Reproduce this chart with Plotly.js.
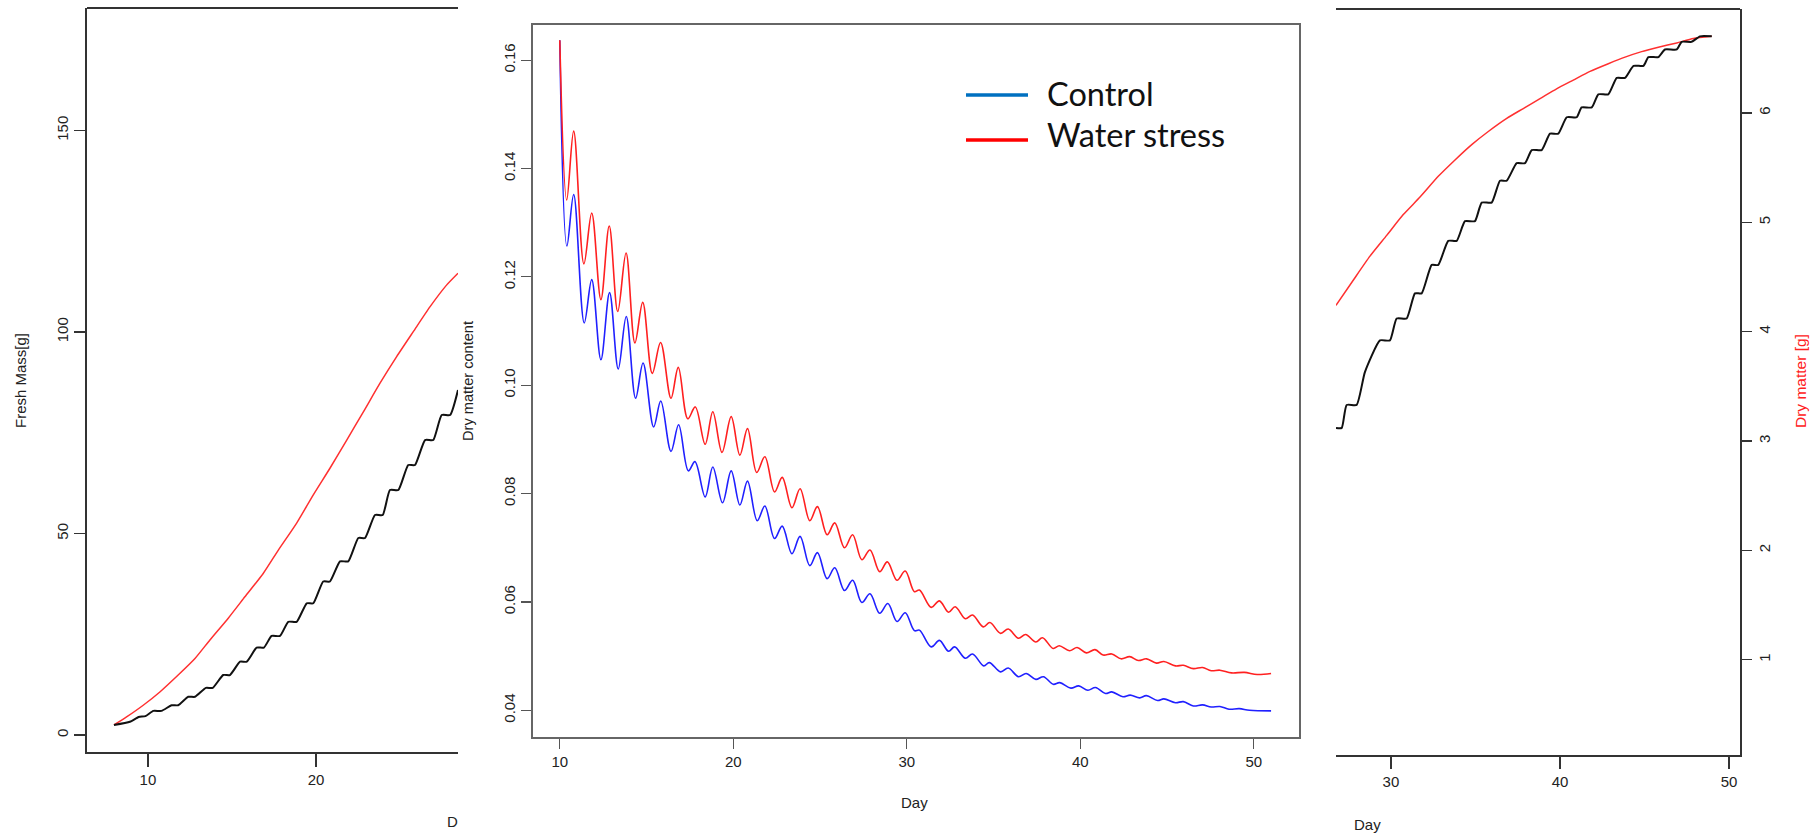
<!DOCTYPE html>
<html>
<head>
<meta charset="utf-8">
<script src="https://cdn.plot.ly/plotly-3.0.1.min.js"></script>
<style>html,body{margin:0;padding:0;background:#fff;}#chart{width:1816px;height:835px;}</style>
</head>
<body>
<div id="chart"></div>
<script>
// ---------- Left panel: Fresh mass [g] ----------
const freshStressDay = [7.98, 8.73, 9.72, 10.71, 11.80, 12.80, 13.69, 14.78, 15.77, 16.86, 17.76, 18.85, 19.84, 20.83, 21.83, 22.82, 23.81, 24.80, 25.79, 26.79, 27.78, 28.45];
const freshStressVal = [2.5, 4.5, 7.4, 10.7, 14.9, 19.0, 23.6, 29.0, 34.3, 40.1, 45.9, 52.6, 59.6, 66.2, 73.2, 80.2, 87.3, 93.9, 100.1, 106.3, 111.7, 114.6];
const freshControlDay = [7.98, 8.93, 9.45, 9.85, 10.32, 10.81, 11.41, 11.80, 12.40, 12.80, 13.45, 13.85, 14.48, 14.88, 15.48, 15.88, 16.47, 16.90, 17.36, 17.86, 18.35, 18.85, 19.45, 19.84, 20.43, 20.83, 21.43, 21.92, 22.52, 22.92, 23.51, 23.97, 24.40, 24.90, 25.49, 25.89, 26.49, 26.98, 27.48, 27.98, 28.45];
const freshControlVal = [2.5, 3.3, 4.5, 4.7, 6.0, 6.0, 7.4, 7.4, 9.5, 9.5, 11.7, 11.7, 14.9, 14.9, 18.2, 18.2, 21.7, 21.7, 24.6, 24.6, 28.1, 28.1, 32.7, 32.7, 38.1, 38.1, 43.1, 43.1, 48.9, 48.9, 54.6, 54.6, 60.8, 60.8, 67.0, 67.0, 73.2, 73.2, 79.4, 79.4, 85.6];
const freshXTicks = [10, 20];
const freshYTicks = [0, 50, 100, 150];

// ---------- Middle panel: Dry matter content ----------
const dmcControlDay = [10.00, 10.41, 10.80, 11.41, 11.84, 12.37, 12.87, 13.37, 13.83, 14.37, 14.80, 15.41, 15.82, 16.41, 16.85, 17.41, 17.79, 18.38, 18.82, 19.38, 19.88, 20.38, 20.82, 21.38, 21.82, 22.38, 22.82, 23.38, 23.85, 24.41, 24.85, 25.41, 25.85, 26.41, 26.88, 27.41, 27.88, 28.44, 28.91, 29.44, 29.91, 30.44, 30.73, 31.41, 31.88, 32.41, 32.76, 33.38, 33.79, 34.44, 34.76, 35.41, 35.85, 36.44, 36.88, 37.44, 37.88, 38.44, 38.82, 39.46, 39.91, 40.44, 40.88, 41.46, 41.82, 42.46, 42.88, 43.43, 43.81, 44.46, 44.82, 45.49, 45.94, 46.52, 47.05, 47.55, 48.05, 48.58, 49.17, 49.76, 51.00];
const dmcControlVal = [0.1637, 0.1257, 0.1352, 0.1115, 0.1195, 0.1047, 0.1171, 0.1030, 0.1127, 0.0976, 0.1041, 0.0923, 0.0971, 0.0878, 0.0927, 0.0842, 0.0859, 0.0794, 0.0849, 0.0783, 0.0842, 0.0779, 0.0823, 0.0750, 0.0777, 0.0717, 0.0740, 0.0689, 0.0721, 0.0667, 0.0691, 0.0643, 0.0663, 0.0621, 0.0640, 0.0599, 0.0615, 0.0579, 0.0597, 0.0564, 0.0580, 0.0547, 0.0548, 0.0517, 0.0529, 0.0509, 0.0517, 0.0496, 0.0504, 0.0482, 0.0488, 0.0471, 0.0478, 0.0462, 0.0468, 0.0457, 0.0462, 0.0448, 0.0451, 0.0441, 0.0445, 0.0437, 0.0442, 0.0431, 0.0434, 0.0425, 0.0428, 0.0423, 0.0427, 0.0418, 0.0421, 0.0414, 0.0416, 0.0408, 0.0410, 0.0406, 0.0407, 0.0402, 0.0403, 0.0400, 0.0399];
const dmcStressDay = [10.00, 10.40, 10.80, 11.39, 11.84, 12.37, 12.85, 13.34, 13.82, 14.33, 14.78, 15.33, 15.81, 16.41, 16.83, 17.38, 17.81, 18.38, 18.82, 19.35, 19.88, 20.38, 20.82, 21.35, 21.82, 22.38, 22.82, 23.38, 23.85, 24.41, 24.85, 25.41, 25.85, 26.41, 26.88, 27.41, 27.88, 28.44, 28.88, 29.44, 29.91, 30.44, 30.73, 31.41, 31.88, 32.41, 32.79, 33.38, 33.79, 34.41, 34.79, 35.41, 35.85, 36.44, 36.85, 37.44, 37.82, 38.44, 38.79, 39.38, 39.82, 40.35, 40.85, 41.32, 41.82, 42.35, 42.85, 43.35, 43.82, 44.40, 44.82, 45.49, 45.94, 46.52, 47.05, 47.55, 48.05, 48.72, 49.46, 50.20, 51.00];
const dmcStressVal = [0.1637, 0.1342, 0.1469, 0.1224, 0.1318, 0.1158, 0.1294, 0.1136, 0.1244, 0.1078, 0.1153, 0.1022, 0.1079, 0.0976, 0.1033, 0.0938, 0.0960, 0.0891, 0.0951, 0.0876, 0.0942, 0.0871, 0.0920, 0.0839, 0.0868, 0.0803, 0.0830, 0.0774, 0.0809, 0.0750, 0.0776, 0.0724, 0.0746, 0.0700, 0.0724, 0.0678, 0.0696, 0.0656, 0.0674, 0.0640, 0.0657, 0.0619, 0.0622, 0.0590, 0.0602, 0.0581, 0.0591, 0.0569, 0.0576, 0.0554, 0.0562, 0.0542, 0.0550, 0.0533, 0.0540, 0.0526, 0.0534, 0.0514, 0.0519, 0.0510, 0.0516, 0.0506, 0.0512, 0.0502, 0.0504, 0.0495, 0.0499, 0.0492, 0.0495, 0.0487, 0.0490, 0.0482, 0.0483, 0.0477, 0.0479, 0.0473, 0.0474, 0.0469, 0.0470, 0.0466, 0.0468];
const dmcXTicks = [10, 20, 30, 40, 50];
const dmcYTicks = [0.04, 0.06, 0.08, 0.10, 0.12, 0.14, 0.16];
const dmcYTickText = ['0.04', '0.06', '0.08', '0.10', '0.12', '0.14', '0.16'];
const legendNames = ['Control', 'Water stress'];

// ---------- Right panel: Dry matter [g] ----------
const dryStressDay = [26.75, 27.77, 28.76, 29.75, 30.73, 31.72, 32.80, 33.79, 34.78, 35.76, 36.85, 37.83, 38.82, 39.80, 40.79, 41.78, 42.86, 43.85, 44.83, 45.82, 46.91, 47.89, 48.98];
const dryStressVal = [4.24, 4.47, 4.69, 4.88, 5.07, 5.23, 5.42, 5.57, 5.71, 5.83, 5.95, 6.04, 6.13, 6.22, 6.30, 6.38, 6.45, 6.51, 6.56, 6.60, 6.64, 6.68, 6.70];
const dryControlDay = [26.75, 27.09, 27.38, 27.97, 28.46, 29.35, 29.94, 30.34, 30.93, 31.42, 31.82, 32.41, 32.80, 33.39, 33.89, 34.38, 34.97, 35.37, 35.96, 36.45, 36.85, 37.44, 37.93, 38.33, 38.92, 39.41, 39.90, 40.40, 40.99, 41.28, 41.88, 42.27, 42.86, 43.36, 43.85, 44.35, 44.94, 45.23, 45.82, 46.21, 46.91, 47.20, 47.79, 48.28, 48.98];
const dryControlVal = [3.12, 3.12, 3.33, 3.33, 3.63, 3.92, 3.92, 4.12, 4.12, 4.35, 4.35, 4.61, 4.61, 4.83, 4.83, 5.01, 5.01, 5.18, 5.18, 5.38, 5.38, 5.54, 5.54, 5.66, 5.66, 5.81, 5.81, 5.96, 5.96, 6.05, 6.05, 6.17, 6.17, 6.32, 6.32, 6.43, 6.43, 6.51, 6.51, 6.58, 6.58, 6.65, 6.65, 6.70, 6.70];
const dryXTicks = [30, 40, 50];
const dryYTicks = [1, 2, 3, 4, 5, 6];

// ---------- layout helpers (pixel -> paper) ----------
const W = 1816, H = 835;
const px = v => v / W;
const py = v => 1 - v / H;
const tickFont = {family: 'Liberation Sans, Arial, sans-serif', size: 15, color: '#222'};
const labFont = {family: 'Liberation Sans, Arial, sans-serif', size: 15, color: '#222'};
const legFont = {family: 'Lato, Open Sans, sans-serif', size: 32.5, color: '#111'};

const traces = [
  {x: freshStressDay, y: freshStressVal, xaxis: 'x', yaxis: 'y', mode: 'lines', line: {color: '#ff3030', width: 1.5, shape: 'spline', smoothing: 0.6}},
  {x: freshControlDay, y: freshControlVal, xaxis: 'x', yaxis: 'y', mode: 'lines', line: {color: '#111', width: 2, shape: 'spline', smoothing: 0.5}},
  {x: dmcControlDay, y: dmcControlVal, xaxis: 'x2', yaxis: 'y2', mode: 'lines', name: legendNames[0], line: {color: '#2020ff', width: 1.6, shape: 'spline', smoothing: 1}},
  {x: dmcStressDay, y: dmcStressVal, xaxis: 'x2', yaxis: 'y2', mode: 'lines', name: legendNames[1], line: {color: '#ff2020', width: 1.6, shape: 'spline', smoothing: 1}},
  {x: dryStressDay, y: dryStressVal, xaxis: 'x3', yaxis: 'y3', mode: 'lines', line: {color: '#ff3030', width: 1.5, shape: 'spline', smoothing: 0.6}},
  {x: dryControlDay, y: dryControlVal, xaxis: 'x3', yaxis: 'y3', mode: 'lines', line: {color: '#111', width: 2, shape: 'spline', smoothing: 0.5}}
];

const axBase = {showgrid: false, zeroline: false, ticks: 'outside', tickfont: tickFont, showline: true, fixedrange: true};

const layout = {
  width: W, height: H,
  margin: {l: 0, r: 0, t: 0, b: 0},
  paper_bgcolor: '#fff', plot_bgcolor: 'rgba(0,0,0,0)',
  showlegend: false,
  xaxis: Object.assign({}, axBase, {domain: [px(87), px(458)], range: [6.375, 28.45], anchor: 'y', tickvals: freshXTicks, ticklen: 13, tickwidth: 1.5, tickcolor: '#333', linecolor: '#333', linewidth: 2}),
  yaxis: Object.assign({}, axBase, {domain: [py(752), py(8)], range: [-4.2, 180.4], anchor: 'x', tickvals: freshYTicks, ticklen: 11, tickwidth: 1.5, tickcolor: '#333', linecolor: '#333', linewidth: 2, tickangle: -90}),
  xaxis2: Object.assign({}, axBase, {domain: [px(532.8), px(1299)], range: [8.444, 52.61], anchor: 'y2', tickvals: dmcXTicks, ticklen: 10, tickwidth: 1.2, tickcolor: '#555', linecolor: '#666', linewidth: 1.5, mirror: true}),
  yaxis2: Object.assign({}, axBase, {domain: [py(737), py(24.5)], range: [0.03507, 0.16659], anchor: 'x2', tickvals: dmcYTicks, ticktext: dmcYTickText, ticklen: 10, tickwidth: 1.2, tickcolor: '#555', linecolor: '#666', linewidth: 1.5, mirror: true, tickangle: -90}),
  xaxis3: Object.assign({}, axBase, {domain: [px(1336), px(1740)], range: [26.75, 50.65], anchor: 'y3', tickvals: dryXTicks, ticklen: 12, tickwidth: 1.5, tickcolor: '#333', linecolor: '#333', linewidth: 2}),
  yaxis3: Object.assign({}, axBase, {domain: [py(755), py(9)], range: [0.129, 6.95], anchor: 'x3', side: 'right', tickvals: dryYTicks, ticklen: 10, tickwidth: 1.5, tickcolor: '#333', linecolor: '#333', linewidth: 2, tickangle: -90}),
  shapes: [
    {type: 'line', xref: 'paper', yref: 'paper', x0: px(87), x1: px(458), y0: py(8), y1: py(8), line: {color: '#333', width: 2}},
    {type: 'line', xref: 'paper', yref: 'paper', x0: px(1336), x1: px(1740), y0: py(9), y1: py(9), line: {color: '#333', width: 2}},
    {type: 'line', xref: 'paper', yref: 'paper', x0: px(966), x1: px(1028), y0: py(95), y1: py(95), line: {color: '#0070c0', width: 3.5}},
    {type: 'line', xref: 'paper', yref: 'paper', x0: px(966), x1: px(1028), y0: py(140), y1: py(140), line: {color: '#ff0000', width: 3.5}}
  ],
  annotations: [
    {text: 'Fresh Mass[g]', xref: 'paper', yref: 'paper', x: px(20), y: py(381), textangle: -90, showarrow: false, font: labFont, xanchor: 'center', yanchor: 'middle'},
    {text: 'D', xref: 'paper', yref: 'paper', x: px(452), y: py(821), showarrow: false, font: labFont, xanchor: 'center', yanchor: 'middle'},
    {text: 'Dry matter content', xref: 'paper', yref: 'paper', x: px(468), y: py(381), textangle: -90, showarrow: false, font: {family: labFont.family, size: 14.6, color: '#222'}, xanchor: 'center', yanchor: 'middle'},
    {text: 'Day', xref: 'paper', yref: 'paper', x: px(915), y: py(802), showarrow: false, font: labFont, xanchor: 'center', yanchor: 'middle'},
    {text: 'Day', xref: 'paper', yref: 'paper', x: px(1367), y: py(824), showarrow: false, font: labFont, xanchor: 'center', yanchor: 'middle'},
    {text: 'Dry matter [g]', xref: 'paper', yref: 'paper', x: px(1800), y: py(381), textangle: -90, showarrow: false, font: {family: labFont.family, size: 15.5, color: '#ff2020'}, xanchor: 'center', yanchor: 'middle'},
    {text: legendNames[0], xref: 'paper', yref: 'paper', x: px(1045), y: py(94), showarrow: false, font: legFont, xanchor: 'left', yanchor: 'middle'},
    {text: legendNames[1], xref: 'paper', yref: 'paper', x: px(1045), y: py(134), showarrow: false, font: legFont, xanchor: 'left', yanchor: 'middle'}
  ]
};

Plotly.newPlot('chart', traces, layout, {staticPlot: true, displayModeBar: false});
</script>
</body>
</html>
